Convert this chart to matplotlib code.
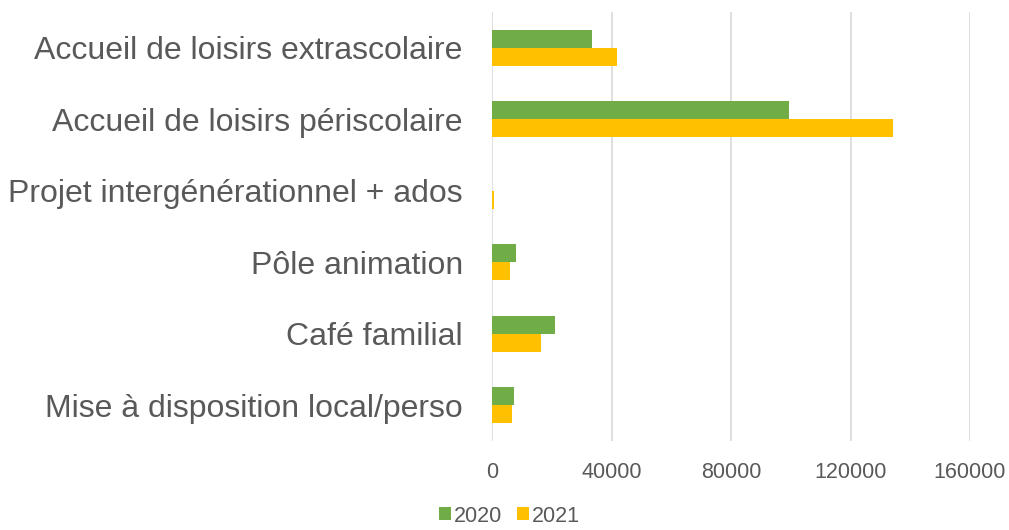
import matplotlib
matplotlib.use("Agg")
import matplotlib.pyplot as plt
import numpy as np

categories = [
    "Accueil de loisirs extrascolaire",
    "Accueil de loisirs périscolaire",
    "Projet intergénérationnel + ados",
    "Pôle animation",
    "Café familial",
    "Mise à disposition local/perso",
]
values_2020 = [33450, 99400, 0, 8150, 21100, 7400]
values_2021 = [41850, 134300, 700, 6150, 16450, 6800]
series_labels = ["2020", "2021"]
xticks = [0, 40000, 80000, 120000, 160000]

plt.rcParams['font.family'] = ['Liberation Sans', 'DejaVu Sans']

fig = plt.figure(figsize=(10.09, 5.30), dpi=100)
ax = fig.add_axes([492/1009, 1-441/530, (970-492)/1009, (441-12)/530])

y = np.arange(len(categories))
h = 0.25
ax.barh(y - h/2, values_2020, height=h, color="#70AD47", label=series_labels[0],
        linewidth=0, zorder=3)
ax.barh(y + h/2, values_2021, height=h, color="#FFC000", label=series_labels[1],
        linewidth=0, zorder=3)

ax.set_ylim(len(categories) - 0.5, -0.5)
ax.set_xlim(0, 160000)
ax.set_yticks(y)
ax.set_yticklabels(categories, fontsize=23, color="#595959")
ax.set_xticks(xticks)
ax.set_xticklabels([str(t) for t in xticks], fontsize=15.5, color="#595959")
ax.tick_params(axis='y', length=0, pad=21)
ax.tick_params(axis='x', length=0, pad=15)

for s in ["top", "right", "bottom", "left"]:
    ax.spines[s].set_visible(False)
ax.xaxis.grid(True, color="#D9D9D9", linewidth=1.2, zorder=0)
ax.set_axisbelow(True)

fig.legend(loc="lower center", bbox_to_anchor=(0.505, -0.03), ncol=2, frameon=False,
           fontsize=15.5, handlelength=0.55, handleheight=0.55, handletextpad=0.15,
           columnspacing=0.7, labelcolor="#595959")

fig.savefig("out.png", dpi=100)
